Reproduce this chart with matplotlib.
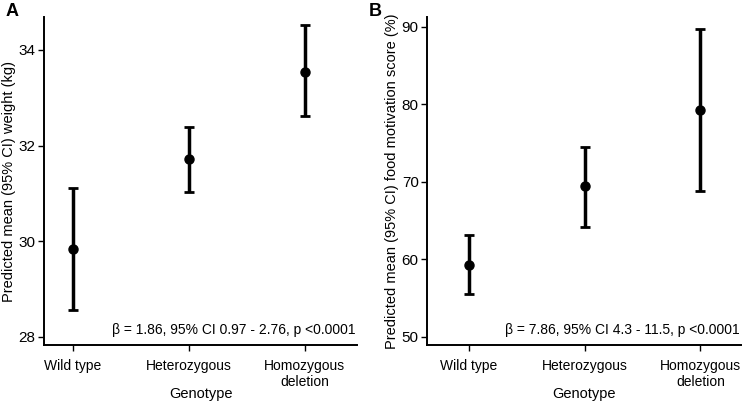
import matplotlib.pyplot as plt
import numpy as np

plt.rcParams['font.family'] = ['Liberation Sans', 'DejaVu Sans']

genotypes = ["Wild type", "Heterozygous", "Homozygous\ndeletion"]

weight_mean = [29.83, 31.71, 33.55]
weight_lo = [28.56, 31.03, 32.61]
weight_hi = [31.12, 32.39, 34.52]

food_mean = [59.3, 69.4, 79.2]
food_lo = [55.5, 64.1, 68.8]
food_hi = [63.15, 74.45, 89.7]

fig = plt.figure(figsize=(7.45, 4.04), dpi=100)
axA = fig.add_axes([44/745, 1-345/404, (357-44)/745, (345-17)/404])
axB = fig.add_axes([427/745, 1-345/404, (741-427)/745, (345-17)/404])


def panel(ax, mean, lo, hi, ylabel, yticks, ylim, xlim, note):
    x = np.arange(len(mean))
    mean = np.array(mean)
    err = [mean - np.array(lo), np.array(hi) - mean]
    ax.errorbar(x, mean, yerr=err, fmt='o', color='black', ms=6.5,
                elinewidth=2.5, capsize=3.3, capthick=2)
    ax.set_xlim(*xlim)
    ax.set_ylim(*ylim)
    ax.set_yticks(yticks)
    ax.set_xticks(x)
    ax.set_xticklabels(genotypes, fontsize=10)
    ax.tick_params(axis='y', labelsize=11, length=4, width=1, pad=2)
    ax.tick_params(axis='x', length=4, width=1, pad=6)
    for s in ['top', 'right']:
        ax.spines[s].set_visible(False)
    for s in ['left', 'bottom']:
        ax.spines[s].set_linewidth(1.4)
    ax.set_ylabel(ylabel, fontsize=10.5, va='center')
    ax.yaxis.set_label_coords(-0.112, 0.5)
    ax.set_xlabel("Genotype", fontsize=10.5)
    ax.xaxis.set_label_coords(0.5, -0.128)
    ax.text(0.995, 0.025, note, transform=ax.transAxes, ha='right',
            va='bottom', fontsize=10)


panel(axA, weight_mean, weight_lo, weight_hi,
      "Predicted mean (95% CI) weight (kg)", [28, 30, 32, 34],
      (27.83, 34.69), (-0.25, 2.45),
      "β = 1.86, 95% CI 0.97 - 2.76, p <0.0001")
panel(axB, food_mean, food_lo, food_hi,
      "Predicted mean (95% CI) food motivation score (%)", [50, 60, 70, 80, 90],
      (48.93, 91.25), (-0.36, 2.35),
      "β = 7.86, 95% CI 4.3 - 11.5, p <0.0001")

fig.text(6/745, 1-12/404, "A", fontsize=13, fontweight='bold', va='center')
fig.text(369/745, 1-12/404, "B", fontsize=13, fontweight='bold', va='center')

fig.savefig("out.png", dpi=100)
